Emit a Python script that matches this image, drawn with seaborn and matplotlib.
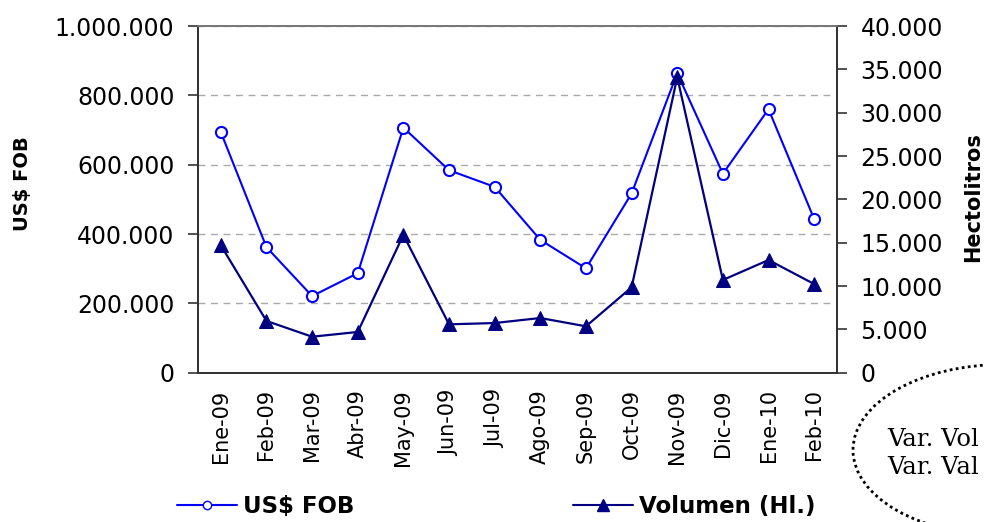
import pandas as pd
import seaborn as sns
import matplotlib.pyplot as plt
from matplotlib.ticker import FuncFormatter, FixedLocator
from matplotlib.patches import Ellipse
from matplotlib.lines import Line2D

meses = ["Ene-09", "Feb-09", "Mar-09", "Abr-09", "May-09", "Jun-09", "Jul-09",
         "Ago-09", "Sep-09", "Oct-09", "Nov-09", "Dic-09", "Ene-10", "Feb-10"]
fob = [694000, 362000, 221000, 287000, 707000, 584000, 536000,
       383000, 301000, 517000, 864000, 574000, 760000, 443000]
volumen = [14700, 5970, 4150, 4700, 15900, 5580, 5730,
           6310, 5350, 9850, 34100, 10700, 13000, 10230]

df = pd.DataFrame({"Mes": meses, "FOB": fob, "Vol": volumen})

sns.set_style("white")
plt.rcParams["font.family"] = ["DejaVu Sans"]
plt.rcParams["text.color"] = "black"
plt.rcParams["xtick.color"] = "black"
plt.rcParams["ytick.color"] = "black"

fig = plt.figure(figsize=(9.84, 5.22), dpi=100)
ax = fig.add_axes([198 / 984, 1 - 372.7 / 522, (837 - 198) / 984, (372.7 - 26) / 522])
ax2 = ax.twinx()

sns.lineplot(data=df, x="Mes", y="FOB", ax=ax, sort=False, color="#0000ff",
             lw=1.5, marker="o", ms=8, mfc="white", mec="#0000ff", mew=1.5, zorder=3)
sns.lineplot(data=df, x="Mes", y="Vol", ax=ax2, sort=False, color="#000080",
             lw=1.6, marker="^", ms=10, mfc="#000080", mec="#000080", zorder=3)

def miles(v, pos):
    return f"{int(v):,}".replace(",", ".")

ax.set_ylim(0, 1000000)
ax2.set_ylim(0, 40000)
ax.set_xlim(-0.5, len(meses) - 0.5)
ax.set_yticks(range(0, 1000001, 200000))
ax2.set_yticks(range(0, 40001, 5000))
ax.yaxis.set_major_formatter(FuncFormatter(miles))
ax2.yaxis.set_major_formatter(FuncFormatter(miles))

ax.set_xticks(range(len(meses)))
ax.set_xticklabels(meses, rotation=90, fontsize=15)
ax.xaxis.set_minor_locator(FixedLocator([i - 0.5 for i in range(len(meses) + 1)]))
ax.tick_params(axis="x", which="major", length=0, pad=12)
ax.tick_params(axis="x", which="minor", length=5, width=1.2, color="#333333", direction="out")
ax.tick_params(axis="y", length=7, width=1.2, color="#333333", direction="out", labelsize=17, pad=10)
ax2.tick_params(axis="y", length=7, width=1.2, color="#333333", direction="out", labelsize=17, pad=10)

ax.grid(axis="y", color="#aaaaaa", linestyle=(0, (5, 4)), lw=1)
for a in (ax, ax2):
    for s in a.spines.values():
        s.set_visible(True)
        s.set_color("#333333")
        s.set_linewidth(1.3)
    a.spines["top"].set_color("#777777")

ax.set_xlabel("")
ax.set_ylabel("")
ax2.set_ylabel("")
fig.text(23 / 984, 1 - 184 / 522, "US$ FOB", rotation=90, fontsize=14,
         fontweight="bold", ha="center", va="center")
fig.text(973 / 984, 1 - 197 / 522, "Hectolitros", rotation=90, fontsize=15,
         fontweight="bold", ha="center", va="center")

h1 = Line2D([], [], color="#0000ff", lw=1.5, marker="o", ms=6, mfc="white", mec="#0000ff")
h2 = Line2D([], [], color="#000080", lw=1.5, marker="^", ms=9, mfc="#000080", mec="#000080")
leg_kw = dict(loc="center left", frameon=False, handlelength=2.6, handletextpad=0.3,
              borderpad=0, borderaxespad=0, prop={"weight": "bold", "size": 16.5})
fig.legend([h1], ["US$ FOB"], bbox_to_anchor=(177 / 984, 1 - 507 / 522), **leg_kw)
fig.legend([h2], ["Volumen (Hl.)"], bbox_to_anchor=(573 / 984, 1 - 507 / 522), **leg_kw)

ell = Ellipse((1003 / 984, 1 - 450 / 522), 300 / 984, 171 / 522, transform=fig.transFigure,
              fill=False, linestyle=(0, (1, 1.2)), lw=2, edgecolor="black")
fig.patches.append(ell)
fig.text(887 / 984, 1 - 440 / 522, "Var. Vol", family="DejaVu Serif", fontsize=17.5, va="center")
fig.text(887 / 984, 1 - 468 / 522, "Var. Val", family="DejaVu Serif", fontsize=17.5, va="center")

plt.savefig("out.png", dpi=100)
